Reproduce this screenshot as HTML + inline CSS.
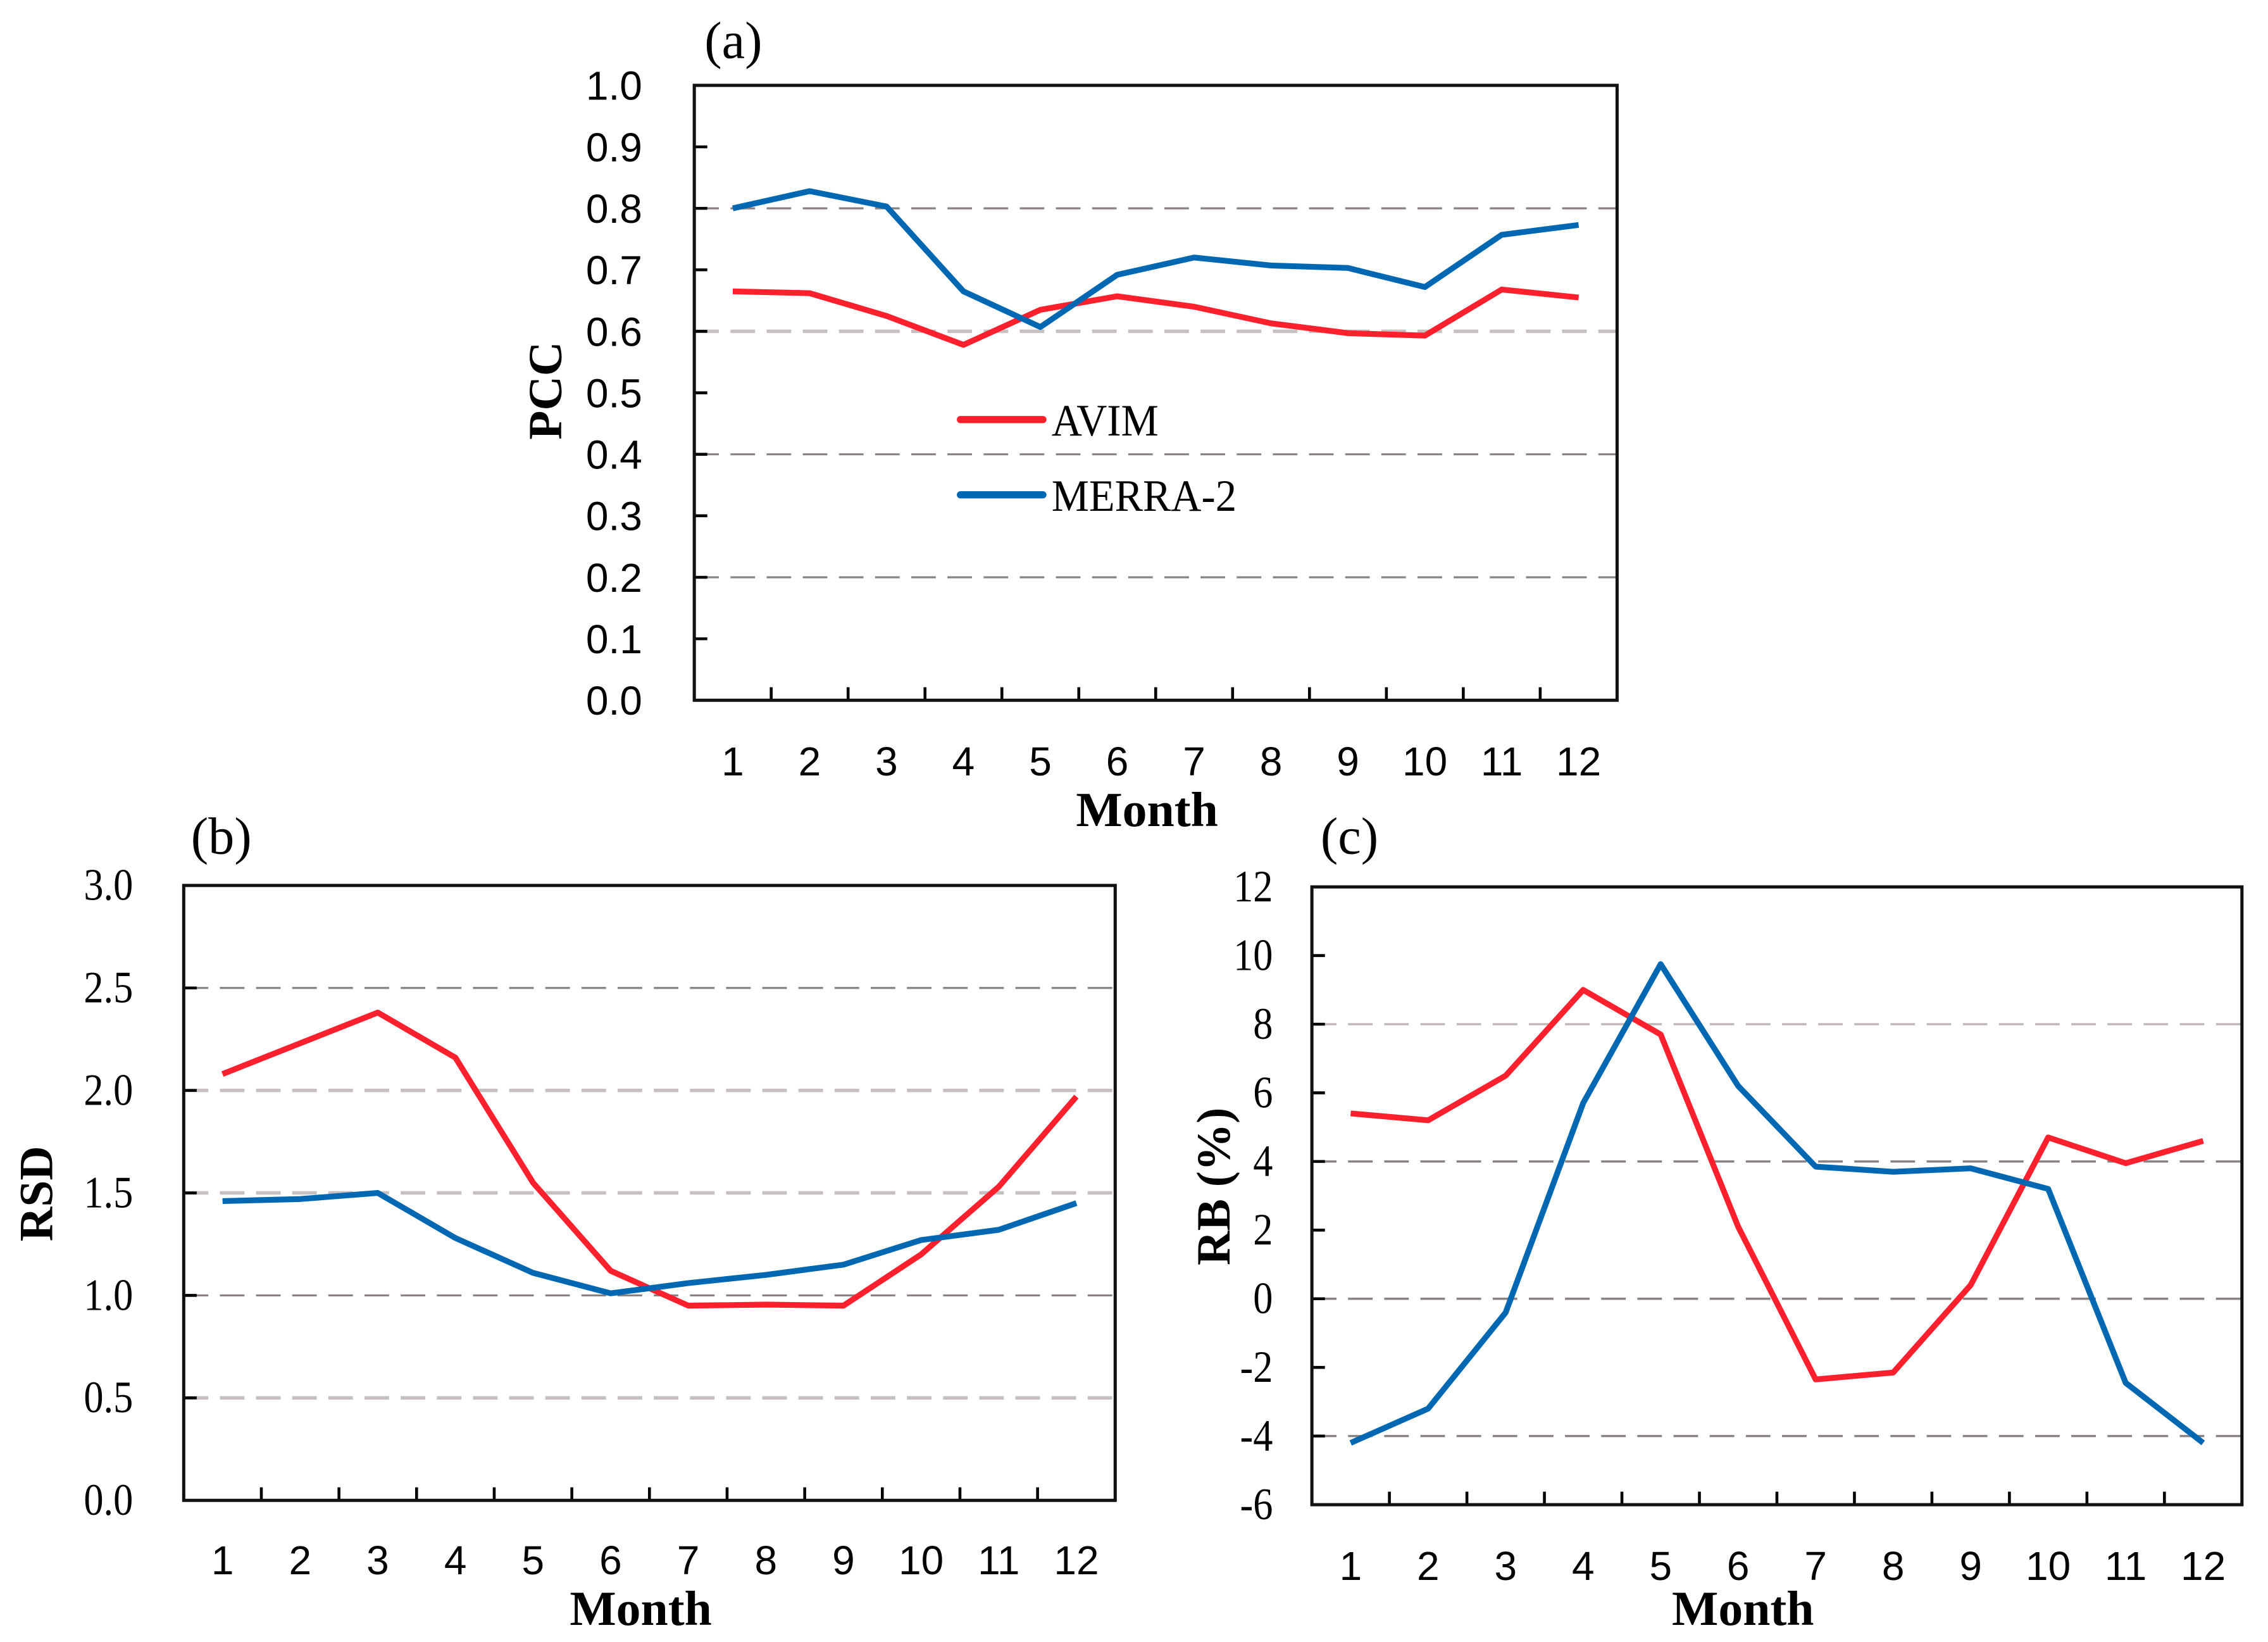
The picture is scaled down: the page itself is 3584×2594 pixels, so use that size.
<!DOCTYPE html>
<html><head><meta charset="utf-8"><style>
html,body{margin:0;padding:0;background:#fff;}
svg{display:block;}
.tick{font-family:"Liberation Sans",sans-serif;font-size:28px;fill:#000;}
.ser{font-family:"Liberation Serif",serif;fill:#000;}
</style></head><body>
<svg id="fig" width="3584" height="2594" viewBox="0 0 1568 1134.9" xmlns="http://www.w3.org/2000/svg"></svg>
<script>
const months = [1,2,3,4,5,6,7,8,9,10,11,12];
const pccTicks = ["0.0","0.1","0.2","0.3","0.4","0.5","0.6","0.7","0.8","0.9","1.0"];
const pccAvim = [0.665,0.662,0.625,0.578,0.635,0.657,0.640,0.613,0.597,0.593,0.668,0.655];
const pccMerra = [0.800,0.828,0.803,0.665,0.607,0.692,0.720,0.707,0.703,0.672,0.757,0.773];
const rsdTicks = ["0.0","0.5","1.0","1.5","2.0","2.5","3.0"];
const rsdAvim = [2.08,2.23,2.38,2.16,1.55,1.12,0.95,0.955,0.95,1.20,1.53,1.97];
const rsdMerra = [1.46,1.47,1.50,1.28,1.11,1.01,1.06,1.10,1.15,1.27,1.32,1.45];
const rbTicks = ["-6","-4","-2","0","2","4","6","8","10","12"];
const rbAvim = [5.4,5.2,6.5,9.0,7.7,2.1,-2.35,-2.15,0.4,4.7,3.95,4.6];
const rbMerra = [-4.2,-3.2,-0.4,5.7,9.75,6.2,3.85,3.7,3.8,3.2,-2.45,-4.2];

const NS="http://www.w3.org/2000/svg";
const svg=document.getElementById('fig');
function mk(tag,attrs,parent,text){const e=document.createElementNS(NS,tag);for(const k in attrs)e.setAttribute(k,attrs[k]);if(text!==undefined)e.textContent=text;(parent||svg).appendChild(e);return e;}

function panel(cfg){
  const g=mk('g',{});
  
  
  const {L,R,T,B,ymin,ymax}=cfg;
  const n=months.length, bw=(R-L)/n;
  const xs=i=>L+bw*(i+0.5);
  const ys=v=>B-(v-ymin)/(ymax-ymin)*(B-T);
  cfg.grid.forEach(v=>{
    const l=mk('line',{x1:L,x2:R,y1:ys(v),y2:ys(v),stroke:cfg.gridColor(v),'stroke-width':cfg.gridW(v),'stroke-dasharray':'17,8'},g);
    
    
  });
  cfg.ticks.forEach(t=>{
    const v=parseFloat(t), y=ys(v);
    if(v>ymin && v<ymax){
      const tk=mk('line',{x1:L,x2:L+9,y1:y,y2:y,stroke:'#000','stroke-width':2},g);
      
      
    }
    const tx=mk('text',{x:cfg.ylabX,y:y+10,'text-anchor':'end',class:cfg.yClass,'font-size':cfg.yFont,transform:`translate(${cfg.ylabX},0) scale(${cfg.ySx},1) translate(${-cfg.ylabX},0)`},g,t);
    
    
  });
  for(let i=1;i<n;i++){
    const x=L+bw*i;
    const tk=mk('line',{x1:x,x2:x,y1:B,y2:B-9,stroke:'#000','stroke-width':2},g);
    
    
  }
  months.forEach((m,i)=>{
    const tx=mk('text',{x:xs(i),y:cfg.xlabY,'text-anchor':'middle',class:'tick'},g,String(m));
    
    
  });
  const fr=mk('rect',{x:L,y:T,width:R-L,height:B-T,fill:'none',stroke:'#111','stroke-width':2.2},g);
  
  
  [[cfg.a,'#ff202e','avim-line'],[cfg.m,'#0068b3','merra2-line']].forEach(([arr,c,nm])=>{
    const p=mk('polyline',{points:arr.map((v,i)=>xs(i)+','+ys(v)).join(' '),fill:'none',stroke:c,'stroke-width':4,'stroke-linejoin':'round'},g);
    
    
  });
  const xt=mk('text',{x:cfg.xtX,y:cfg.xtY,'text-anchor':'middle',class:'ser','font-size':34,'font-weight':'bold'},g,'Month');
  
  
  const yt=mk('text',{x:0,y:0,'text-anchor':'middle',class:'ser','font-size':33,'font-weight':'bold',transform:`translate(${cfg.ytX},${cfg.ytY}) rotate(-90)`},g,cfg.ytitle);
  
  
  const pl=mk('text',{x:cfg.plX,y:cfg.plY,'text-anchor':'middle',class:'ser','font-size':36},g,cfg.plabel);
  
  
  return g;
}

const gA=panel({name:'panel-a-pcc',L:480,R:1118,T:59,B:484,ymin:0,ymax:1,ticks:pccTicks,grid:[0.2,0.4,0.6,0.8],
  gridColor:v=>v===0.6?'#c8c0c0':'#8a8282',gridW:v=>v===0.6?2.4:1.4,ylabX:444,yClass:'tick',yFont:28,ySx:1,xlabY:536,
  a:pccAvim,m:pccMerra,xtX:793,xtY:571,ytX:388,ytY:270,ytitle:'PCC',plX:507,plY:40,plabel:'(a)'});
[['#ff202e','AVIM',290,'legend-avim'],['#0068b3','MERRA-2',342,'legend-merra2']].forEach(([c,t,y,nm])=>{
  const lg=mk('g',{},gA);
  
  
  mk('line',{x1:664,x2:721,y1:y,y2:y,stroke:c,'stroke-width':5,'stroke-linecap':'round'},lg);
  mk('text',{x:727,y:y+11,class:'ser','font-size':31,transform:`translate(727,0) scale(0.94,1) translate(-727,0)`},lg,t);
});
panel({name:'panel-b-rsd',L:127,R:771,T:612,B:1037,ymin:0,ymax:3,ticks:rsdTicks,grid:[0.5,1.0,1.5,2.0,2.5],
  gridColor:v=>(v===1.0||v===2.5)?'#8a8282':'#c8c0c0',gridW:v=>(v===1.0||v===2.5)?1.4:2.4,ylabX:92,yClass:'ser',yFont:31,ySx:0.88,xlabY:1088,
  a:rsdAvim,m:rsdMerra,xtX:443,xtY:1123,ytX:36,ytY:825,ytitle:'RSD',plX:153,plY:590,plabel:'(b)'});
panel({name:'panel-c-rb',L:907,R:1550,T:613,B:1040,ymin:-6,ymax:12,ticks:rbTicks,grid:[8,4,0,-4],
  gridColor:v=>v===8?'#c0b8b8':'#8a8282',gridW:v=>1.5,ylabX:880,yClass:'ser',yFont:31,ySx:0.88,xlabY:1092,
  a:rbAvim,m:rbMerra,xtX:1205,xtY:1123,ytX:850,ytY:820,ytitle:'RB (%)',plX:933,plY:590,plabel:'(c)'});
</script>
</body></html>
